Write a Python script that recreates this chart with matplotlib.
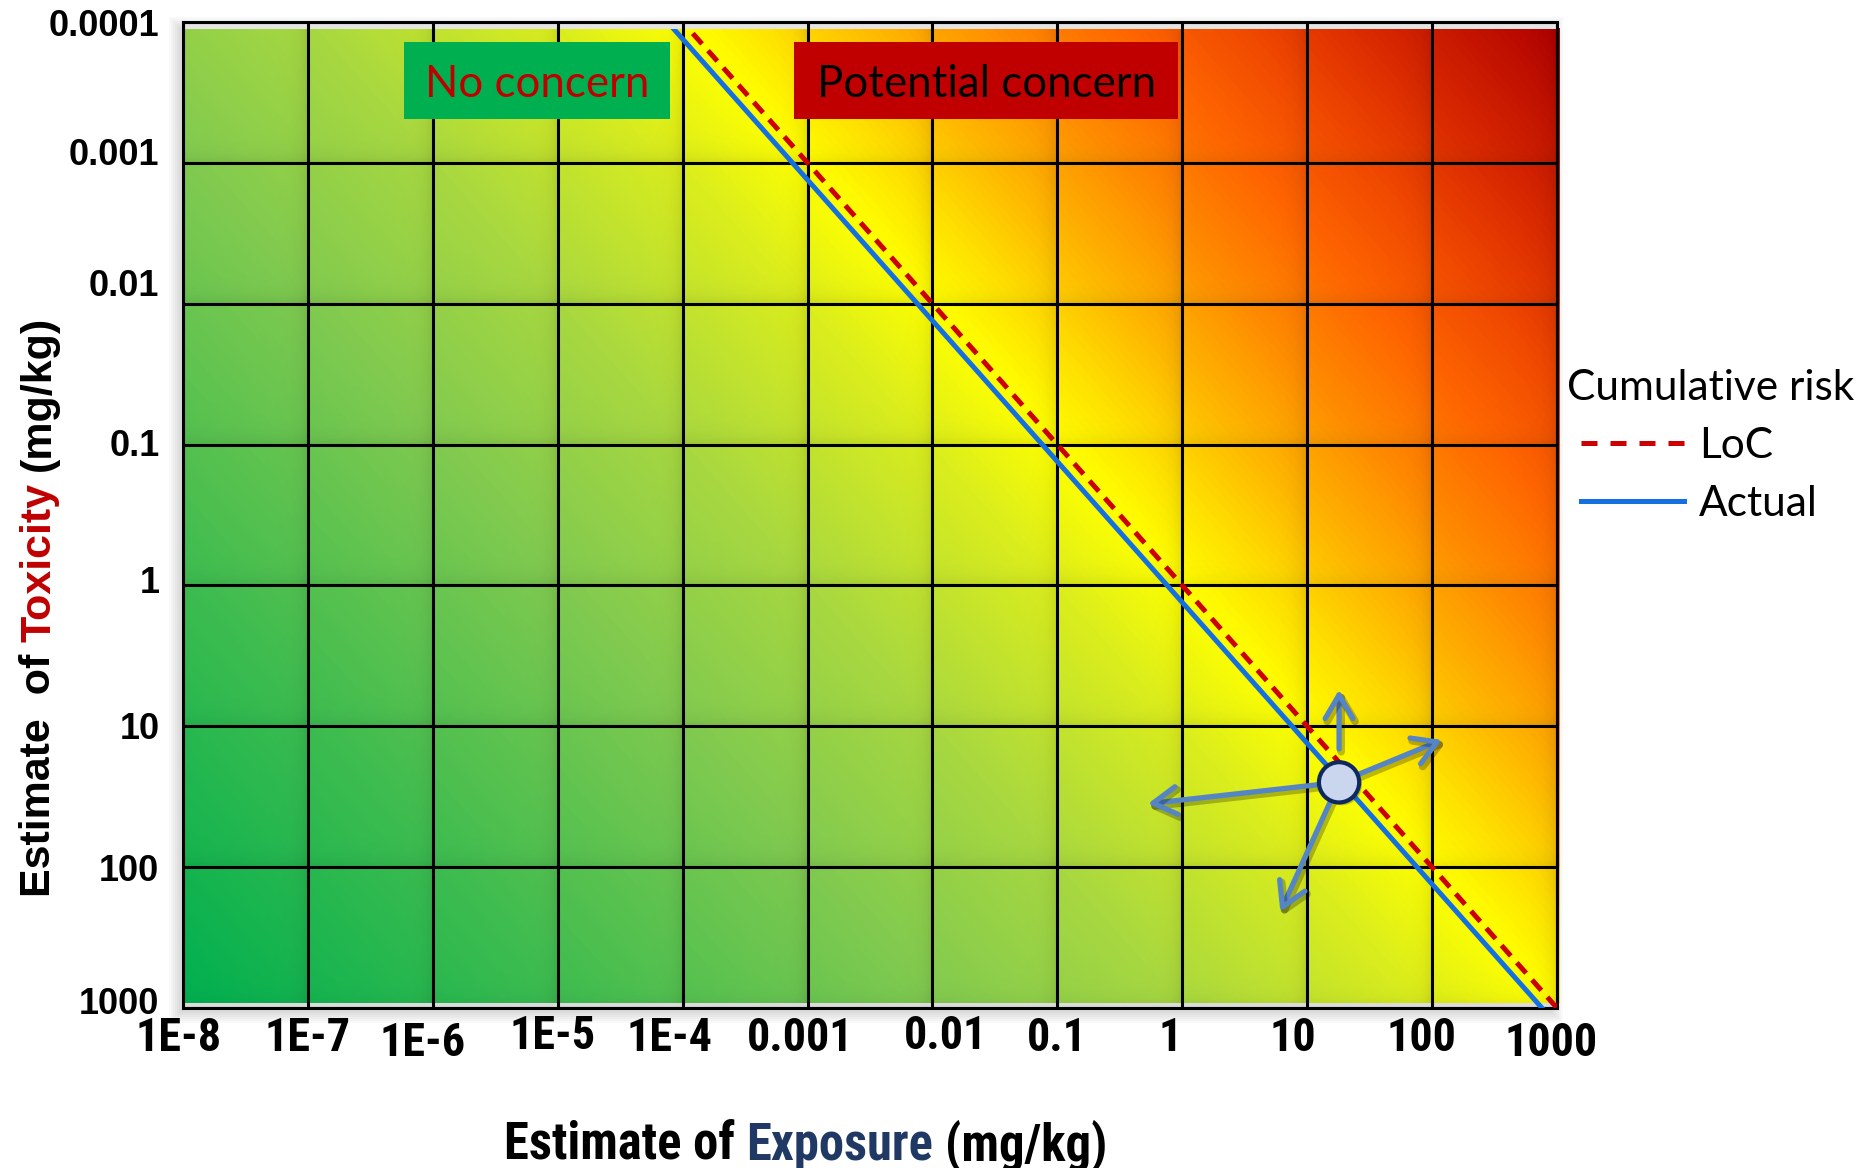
"""Risk plot: stima di esposizione vs tossicita' con linee LoC / Actual."""
import matplotlib

matplotlib.use("Agg")
import matplotlib.pyplot as plt
import matplotlib.patheffects as pe
import numpy as np
from matplotlib import font_manager as fm
from matplotlib.colors import LinearSegmentedColormap
from matplotlib.lines import Line2D
from matplotlib.patches import Rectangle
from matplotlib.ticker import NullLocator
from matplotlib.transforms import ScaledTranslation

# --- dati ---
exposure_ticks = [1e-8, 1e-7, 1e-6, 1e-5, 1e-4, 1e-3, 1e-2, 1e-1, 1, 10, 100, 1000]
exposure_labels = ["1E-8", "1E-7", "1E-6", "1E-5", "1E-4", "0.001", "0.01", "0.1",
                   "1", "10", "100", "1000"]
toxicity_ticks = [1e-4, 1e-3, 1e-2, 1e-1, 1, 10, 100, 1000]
toxicity_labels = ["0.0001", "0.001", "0.01", "0.1", "1", "10", "100", "1000"]

loc_ratio = 1.0        # LoC: tossicita' = esposizione
actual_ratio = 1.32    # linea Actual leggermente a sinistra

point_exposure = 18
point_toxicity = 25
arrow_exposure = [18, 120, 0.53, 6.1]
arrow_toxicity = [5.5, 12.5, 35.5, 207]

# gradiente in funzione di log10(esposizione / tossicita')
grad_stops = [(-11, "#00B050"), (-8, "#3CBC50"), (-5, "#80CA50"), (-3, "#A8D840"),
              (-1, "#DCEE1C"), (0, "#FFFF00"), (0.7, "#FFE000"), (1.5, "#FFB800"),
              (2.5, "#FF8C00"), (3.5, "#FF6600"), (4.5, "#F04800"), (5.5, "#D82800"),
              (7, "#B00000")]

# --- layout (pixel) ---
arrow_shrink = [24, 14, 14, 14]
xlabel_shift = [(-4, 0), (0, 0), (-10, 5), (-5, -2), (-13, 0), (-7, 0), (13, -2),
                (0, 0), (-12, 0), (-14, 0), (-11, 0), (-6, 5)]
ylabel_shift = [0, -11, -21, -2, -6, -1, 0, -8]

W, H = 1870, 1168
fig = plt.figure(figsize=(W / 100, H / 100), dpi=100)
rect = [183 / W, 1 - 1008 / H, 1374 / W, 986 / H]
renderer = fig.canvas.get_renderer()


def condensed_font():
    """Cerca un font condensato (tipo Arial Narrow); altrimenti Liberation Sans."""
    for f in fm.fontManager.ttflist:
        if f.name in ("Liberation Sans Narrow", "Arial Narrow", "Roboto Condensed",
                      "Open Sans Condensed", "Noto Sans Condensed"):
            return dict(family=f.name)
    for f in fm.fontManager.ttflist:
        if f.name in ("Noto Sans", "Open Sans", "DejaVu Sans") and \
                f.stretch in ("condensed", "semi-condensed"):
            return dict(family=f.name, fontstretch=f.stretch)
    return dict(family="Liberation Sans")


def fit_size(text, target_px, **kw):
    t = fig.text(0, 0, text, fontsize=20, **kw)
    w = t.get_window_extent(renderer).width
    t.remove()
    return 20 * target_px / w


cond = condensed_font()
xtick_size = 1.12 * fit_size("0.001", 95, fontweight="bold", **cond)

# ombra esterna del riquadro
for i in range(6):
    d = 2 * i
    fig.patches.append(Rectangle(((183 - 4 - d) / W, (1168 - 1008 - 5 - d) / H),
                                 (1374 + 2 * d) / W, (986 + 2 * d) / H,
                                 transform=fig.transFigure, facecolor="black",
                                 alpha=0.025, edgecolor="none", zorder=-5))

# sfondo sfumato
bg = fig.add_axes(rect, zorder=0)
bg.set_xlim(0, 1)
bg.set_ylim(0, 1)
bg.axis("off")

lx0, lx1 = np.log10(exposure_ticks[0]), np.log10(exposure_ticks[-1])
ly_top, ly_bot = np.log10(toxicity_ticks[0]), np.log10(toxicity_ticks[-1])
img_x = (0, 1.002)
img_y = (0.005, 0.9929)
fx = np.linspace(img_x[0], img_x[1], 1380)
fy = np.linspace(img_y[0], img_y[1], 980)
LE, LT = np.meshgrid(lx0 + (lx1 - lx0) * fx, ly_bot + (ly_top - ly_bot) * fy)
R = LE - LT

r0, r1 = grad_stops[0][0], grad_stops[-1][0]
cmap = LinearSegmentedColormap.from_list(
    "risk", [((r - r0) / (r1 - r0), c) for r, c in grad_stops])
rgb = cmap((R - r0) / (r1 - r0))[..., :3]

dec_w = 1374 / (lx1 - lx0)
dec_h = 986 / (ly_bot - ly_top)
d_right = (1 - (LE - np.floor(LE))) * dec_w
d_bottom = (1 - (LT - np.floor(LT))) * dec_h
shade = 1 - 0.10 * np.exp(-d_right / 8) - 0.08 * np.exp(-d_bottom / 8)
rgb = np.clip(rgb * shade[..., None], 0, 1)

bg.imshow(rgb, extent=(img_x[0], img_x[1], img_y[0], img_y[1]), origin="lower",
          aspect="auto", interpolation="bilinear", clip_on=False)
bg.add_patch(Rectangle((0, img_y[1]), 1, 1 - img_y[1], facecolor="#E4E4E4",
                       edgecolor="none"))

# assi principali
ax = fig.add_axes(rect, zorder=1)
ax.set_facecolor("none")
ax.set_xscale("log")
ax.set_yscale("log")
ax.set_xlim(exposure_ticks[0], exposure_ticks[-1])
ax.set_ylim(toxicity_ticks[-1], toxicity_ticks[0])
ax.set_xticks(exposure_ticks)
ax.set_xticklabels(exposure_labels, fontweight="bold", fontsize=xtick_size, **cond)
ax.set_yticks(toxicity_ticks)
ax.set_yticklabels(toxicity_labels, family="Liberation Sans", fontweight="bold",
                   fontsize=26)
ax.xaxis.set_minor_locator(NullLocator())
ax.yaxis.set_minor_locator(NullLocator())
ax.tick_params(axis="x", length=0, pad=6)
ax.tick_params(axis="y", length=0, pad=17)
ax.grid(True, which="major", color="black", lw=2.2)
for sp in ax.spines.values():
    sp.set_linewidth(2.2)
    sp.set_color("black")

for lab, (dx, dy) in zip(ax.get_xticklabels(), xlabel_shift):
    lab.set_transform(lab.get_transform() +
                      ScaledTranslation(dx / 100, -dy / 100, fig.dpi_scale_trans))
for lab, dy in zip(ax.get_yticklabels(), ylabel_shift):
    lab.set_transform(lab.get_transform() +
                      ScaledTranslation(0, -dy / 100, fig.dpi_scale_trans))

clip = Rectangle((0, 0), 1, img_y[1], transform=ax.transAxes, facecolor="none")
xs = np.array([exposure_ticks[0], exposure_ticks[-1]])
actual_line, = ax.plot(xs, xs * actual_ratio, color="#1470E0", lw=3.6, zorder=3)
loc_line, = ax.plot(xs, xs * loc_ratio, color="#CC0000", lw=3.6, dashes=(2.8, 1.8),
                    zorder=4)
actual_line.set_clip_path(clip)
loc_line.set_clip_path(clip)

# frecce dal punto
shadow = [pe.Stroke(offset=(1.5, -2), linewidth=5.5, foreground="black", alpha=0.25),
          pe.Normal()]
for ex, tx, sh in zip(arrow_exposure, arrow_toxicity, arrow_shrink):
    ax.annotate("", xy=(ex, tx), xytext=(point_exposure, point_toxicity),
                arrowprops=dict(arrowstyle="->,head_length=1.7,head_width=1.0",
                                color="#5585C5", lw=3.8, shrinkA=sh, shrinkB=0,
                                mutation_scale=10, path_effects=shadow),
                zorder=5)
ax.scatter([point_exposure], [point_toxicity], s=840, facecolor="#C9D6EE",
           edgecolor="#0F2860", linewidth=3.0, zorder=6,
           path_effects=[pe.SimplePatchShadow(offset=(2, -2), alpha=0.3), pe.Normal()])

# etichette nelle caselle
ax.add_patch(Rectangle((0.1608, 0.9016), 0.1936, 0.0781, transform=ax.transAxes,
                       facecolor="#00B050", edgecolor="none", zorder=7))
ax.text(0.2576, 0.9239, "No concern", transform=ax.transAxes, ha="center",
        va="baseline", family="Lato", fontsize=31.5, color="#C00000", zorder=8)
ax.add_patch(Rectangle((0.4447, 0.9016), 0.2795, 0.0781, transform=ax.transAxes,
                       facecolor="#C00000", edgecolor="none", zorder=7))
ax.text(0.5845, 0.9239, "Potential concern", transform=ax.transAxes, ha="center",
        va="baseline", family="Lato", fontsize=31.5, color="black", zorder=8)

# legenda
fig.text(1567 / W, 1 - 400 / H, "Cumulative risk", ha="left", va="baseline",
         family="Lato", fontsize=30.5)
handles = [Line2D([], [], color="#CC0000", lw=3.6, dashes=(3.2, 2.6)),
           Line2D([], [], color="#1470E0", lw=3.6)]
fig.legend(handles, ["LoC", "Actual"], loc="upper left",
           bbox_to_anchor=(1581 / W, 1 - 427 / H), frameon=False,
           prop=dict(family="Lato", size=30.5), handlelength=2.43, handletextpad=0.35,
           borderpad=0, borderaxespad=0, labelspacing=0.47)


# titoli degli assi a piu' colori
def space_width(**kw):
    a = fig.text(0, 0, "a a", **kw)
    b = fig.text(0, 0, "aa", **kw)
    w = a.get_window_extent(renderer).width - b.get_window_extent(renderer).width
    a.remove()
    b.remove()
    return w


xlab_size = fit_size("Estimate of Exposure (mg/kg)", 601, fontweight="bold", **cond)
xlab_kw = dict(fontweight="bold", fontsize=xlab_size, **cond)
gap = space_width(**xlab_kw)
pos = 504
for txt, col in [("Estimate of", "black"), ("Exposure", "#1F3864"), ("(mg/kg)", "black")]:
    t = fig.text(pos / W, 1 - 1160 / H, txt, ha="left", va="baseline", color=col,
                 **xlab_kw)
    pos += t.get_window_extent(renderer).width + gap

ylab_kw = dict(family="Liberation Sans", fontweight="bold", fontsize=31)
gap = space_width(**ylab_kw)
pos = 1168 - 897
for txt, col in [("Estimate  of", "black"), ("Toxicity", "#C00000"), ("(mg/kg)", "black")]:
    t = fig.text(50 / W, pos / H, txt, ha="left", va="baseline", rotation=90,
                 rotation_mode="anchor", color=col, **ylab_kw)
    pos += t.get_window_extent(renderer).height + gap

fig.savefig("out.png", dpi=100)
plt.close(fig)
